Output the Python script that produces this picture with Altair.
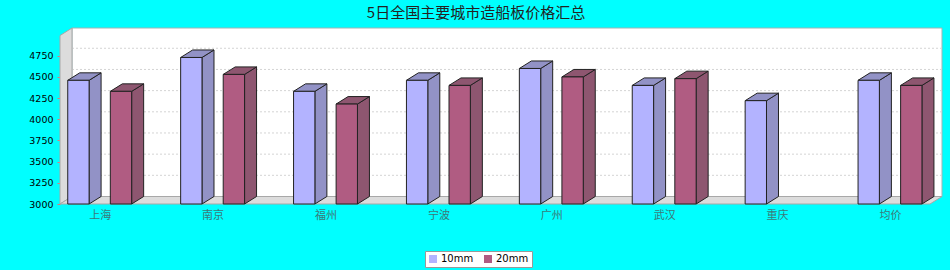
import altair as alt
import pandas as pd

# ---- data -------------------------------------------------------------
categories = ["上海", "南京", "福州", "宁波", "广州", "武汉", "重庆", "均价"]
price_10mm = [4460, 4730, 4330, 4460, 4600, 4400, 4220, 4460]
price_20mm = [4330, 4530, 4180, 4400, 4500, 4480, None, 4400]
series_names = ["10mm", "20mm"]
y_ticks = [3000, 3250, 3500, 3750, 4000, 4250, 4500, 4750]
title_text = "5日全国主要城市造船板价格汇总"

# ---- layout (pixels) --------------------------------------------------
W, H = 882, 176                 # plot area incl. the 3-D depth
PAD_L, PAD_T, PAD_R, PAD_B = 60, 28, 8, 66
DEPTH_X_PX, DEPTH_Y_PX = 12, 7.5
STEP_PX = 112.9                 # distance between category centres
FIRST_CENTER_PX = 39.7          # first category centre from the front-left edge
Y_PX_PER_UNIT = 0.0847
Y_BASE = 3000

X_MIN = -FIRST_CENTER_PX / STEP_PX
X_MAX = X_MIN + W / STEP_PX
DX = DEPTH_X_PX / STEP_PX
Y_MAX = Y_BASE + H / Y_PX_PER_UNIT
DY = DEPTH_Y_PX / Y_PX_PER_UNIT

BAR_W = 0.189
BAR_OFFSETS = [-0.283, 0.094]

FRONT_COLORS = ["#b3b3ff", "#b05c82"]
SHADE_COLORS = ["#9292c6", "#8e5670"]
OUTLINE = "#222222"

xs = alt.Scale(domain=[X_MIN, X_MAX], nice=False, zero=False)
ys = alt.Scale(domain=[Y_BASE, Y_MAX], nice=False, zero=False)

label_expr = "[" + ",".join(f"'{c}'" for c in categories) + "][datum.value]"

# the same axis definitions are shared by every layer so that they merge
X_AXIS = alt.Axis(
    values=list(range(len(categories))), labelExpr=label_expr, title=None,
    grid=False, domain=False, ticks=False, labelPadding=5,
    labelFont="Noto Sans CJK SC", labelFontSize=11, labelColor="#3c7878",
    labelFlush=False,
)
Y_AXIS = alt.Axis(
    values=y_ticks, format="d", title=None, grid=False, domain=False,
    tickColor="#e07878", tickSize=3, tickWidth=1, labelPadding=4,
    labelFont="DejaVu Sans", labelFontSize=9.5, labelColor="#000000",
)


def X(field, **kw):
    return alt.X(field, scale=xs, axis=X_AXIS, **kw)


def Y(field, **kw):
    return alt.Y(field, scale=ys, axis=Y_AXIS, **kw)


# ---- tables built from the arrays ------------------------------------
front_rows, side_rows, top_rows = [], [], []
for s_idx, (name, values) in enumerate(zip(series_names, [price_10mm, price_20mm])):
    for i, v in enumerate(values):
        if v is None:
            continue
        bar_id = f"{name}-{i}"
        left = i + BAR_OFFSETS[s_idx]
        right = left + BAR_W
        front_rows.append(dict(series=name, bar=bar_id, left=left, right=right,
                               value=v, base=Y_BASE))
        side_rows += [
            dict(series=name, bar=bar_id, x=right, top=v, bottom=Y_BASE),
            dict(series=name, bar=bar_id, x=right + DX, top=v + DY, bottom=Y_BASE + DY),
        ]
        top_rows += [
            dict(series=name, bar=bar_id, y=v, xl=left, xr=right),
            dict(series=name, bar=bar_id, y=v + DY, xl=left + DX, xr=right + DX),
        ]
front_df = pd.DataFrame(front_rows)
side_df = pd.DataFrame(side_rows)
top_df = pd.DataFrame(top_rows)

grid_df = pd.DataFrame({"y": [t + DY for t in y_ticks[1:]],
                        "x": X_MIN + DX, "x2": X_MAX})
back_df = pd.DataFrame([{"x": X_MIN + DX, "x2": X_MAX, "y": Y_BASE + DY, "y2": Y_MAX}])
left_wall_df = pd.DataFrame([
    {"x": X_MIN, "y": Y_MAX - DY, "y2": Y_BASE},
    {"x": X_MIN + DX, "y": Y_MAX, "y2": Y_BASE + DY},
])
floor_df = pd.DataFrame([
    {"y": Y_BASE, "x": X_MIN, "x2": X_MAX - DX},
    {"y": Y_BASE + DY, "x": X_MIN + DX, "x2": X_MAX},
])

# ---- walls, floor, grid ----------------------------------------------
back_wall = alt.Chart(back_df).mark_rect(fill="white", stroke="#9fb5b5", strokeWidth=1).encode(
    x=X("x:Q"), x2="x2:Q", y=Y("y:Q"), y2="y2:Q",
)

grid = alt.Chart(grid_df).mark_rule(color="#d4d4d4", strokeDash=[2, 2], strokeWidth=1).encode(
    x=X("x:Q"), x2="x2:Q", y=Y("y:Q"),
)

left_wall = alt.Chart(left_wall_df).mark_area(
    fill="#dcdcdc", stroke="#a8a8a8", strokeWidth=1, orient="vertical"
).encode(
    x=X("x:Q"), y=Y("y:Q", stack=None), y2="y2:Q",
)

floor = alt.Chart(floor_df).mark_area(
    fill="#dcdcdc", stroke="#a8a8a8", strokeWidth=1, orient="horizontal"
).encode(
    y=Y("y:Q"), x=X("x:Q", stack=None), x2="x2:Q",
)

# ---- bars --------------------------------------------------------------
shade_scale = alt.Scale(domain=series_names, range=SHADE_COLORS)

sides = alt.Chart(side_df).mark_area(
    stroke=OUTLINE, strokeWidth=1, orient="vertical"
).encode(
    x=X("x:Q"), y=Y("top:Q", stack=None), y2="bottom:Q",
    detail="bar:N",
    fill=alt.Fill("series:N", scale=shade_scale, legend=None),
)

tops = alt.Chart(top_df).mark_area(
    stroke=OUTLINE, strokeWidth=1, orient="horizontal"
).encode(
    y=Y("y:Q"), x=X("xl:Q", stack=None), x2="xr:Q",
    detail="bar:N",
    fill=alt.Fill("series:N", scale=shade_scale, legend=None),
)

fronts = alt.Chart(front_df).mark_rect(stroke=OUTLINE, strokeWidth=1).encode(
    x=X("left:Q"), x2="right:Q",
    y=Y("value:Q"), y2="base:Q",
    fill=alt.Fill("series:N", scale=alt.Scale(domain=series_names, range=FRONT_COLORS),
                  legend=alt.Legend(
                      orient="none", legendX=365, legendY=223, direction="horizontal",
                      title=None, symbolType="square", symbolSize=64, symbolStrokeWidth=0,
                      labelFont="DejaVu Sans", labelFontSize=10, labelColor="#000000",
                      labelOffset=3, columnPadding=9, padding=3,
                      fillColor="white", strokeColor="#999999",
                  )),
)

chart = alt.layer(
    back_wall, grid, left_wall, floor, sides, tops, fronts
).resolve_scale(
    fill="independent"
).properties(
    width=W, height=H,
    title=alt.TitleParams(
        text=title_text, font="Noto Sans CJK SC", fontSize=15, fontWeight="normal",
        color="#222222", anchor="middle", dx=-25, offset=5,
    ),
    autosize=alt.AutoSizeParams(type="none"),
    padding={"left": PAD_L, "top": PAD_T, "right": PAD_R, "bottom": PAD_B},
    background="#00ffff",
).configure_view(stroke=None)

chart.save("out.html", embed_options={"renderer": "svg", "actions": False})
